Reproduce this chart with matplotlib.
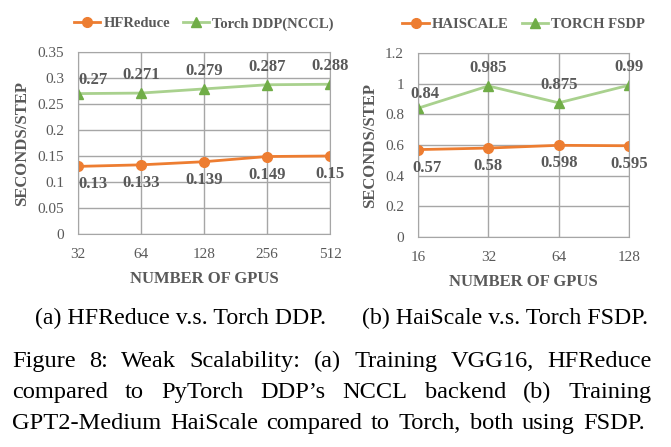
import numpy as np
import matplotlib
matplotlib.use("Agg")
import matplotlib.pyplot as plt

# data
gpus_a = ["32", "64", "128", "256", "512"]
hfreduce = [0.13, 0.133, 0.139, 0.149, 0.15]
torch_ddp = [0.27, 0.271, 0.279, 0.287, 0.288]

gpus_b = ["16", "32", "64", "128"]
haiscale = [0.57, 0.58, 0.598, 0.595]
torch_fsdp = [0.84, 0.985, 0.875, 0.99]

yticks_a = [0, 0.05, 0.1, 0.15, 0.2, 0.25, 0.3, 0.35]
yticks_b = [0, 0.2, 0.4, 0.6, 0.8, 1, 1.2]

caption_a = "(a) HFReduce v.s. Torch DDP."
caption_b = "(b) HaiScale v.s. Torch FSDP."
caption_lines = [
    "Figure 8: Weak Scalability: (a) Training VGG16, HFReduce",
    "compared to PyTorch DDP\u2019s NCCL backend (b) Training",
    "GPT2-Medium HaiScale compared to Torch, both using FSDP.",
]

ORANGE = "#ED7D31"
GREEN_LINE = "#A9D18E"
GREEN_MK = "#70AD47"
GRAY = "#595959"
SERIF = "Liberation Serif"

plt.rcParams["font.family"] = SERIF


def fmt(v):
    s = ("%.3f" % v).rstrip("0").rstrip(".")
    return s


def draw_chart(ax, cats, low, high, names, yticks, ymax, first_dx):
    x = np.arange(len(cats))
    ax.plot(x, low, color=ORANGE, lw=2, marker="o", ms=7, mfc=ORANGE, mec=ORANGE, label=names[0])
    ax.plot(x, high, color=GREEN_LINE, lw=2, marker="^", ms=7, mfc=GREEN_MK, mec=GREEN_MK, label=names[1])
    ax.set_xlim(0, len(cats) - 1)
    ax.set_ylim(0, ymax)
    ax.set_xticks(x)
    ax.set_xticklabels(cats)
    ax.set_yticks(yticks)
    ax.set_yticklabels([fmt(v) for v in yticks])
    ax.tick_params(length=0, labelsize=11, labelcolor=GRAY, pad=10)
    ax.grid(True, color="#A6A6A6", lw=1)
    ax.set_axisbelow(True)
    for s in ax.spines.values():
        s.set_color("#A6A6A6")
    ax.set_xlabel("NUMBER OF GPUS", fontsize=12, fontweight="bold", color=GRAY, labelpad=7)
    ax.set_ylabel("SECONDS/STEP", fontsize=12, fontweight="bold", color=GRAY, labelpad=5)

    # data labels
    for i, v in enumerate(high):
        dx = first_dx[1] if i == 0 else 0
        dy = 10 if i == 0 else 13
        ax.annotate(fmt(v), (i, v), xytext=(dx, dy), textcoords="offset points",
                    ha="center", va="center", fontsize=12, fontweight="bold",
                    color=GRAY, annotation_clip=False)
    for i, v in enumerate(low):
        dx = first_dx[0] if i == 0 else 0
        ax.annotate(fmt(v), (i, v), xytext=(dx, -13), textcoords="offset points",
                    ha="center", va="center", fontsize=12, fontweight="bold",
                    color=GRAY, annotation_clip=False)

    leg = ax.legend(loc="center", bbox_to_anchor=(0.5, 1.155), ncol=2, frameon=False,
                    handlelength=1.8, columnspacing=0.9, handletextpad=0.2,
                    prop={"family": SERIF, "weight": "bold", "size": 10.5})
    for t in leg.get_texts():
        t.set_color(GRAY)


fig = plt.figure(figsize=(6.71, 4.47), dpi=100)
W, H = 671.0, 447.0

ax1 = fig.add_axes([78 / W, 1 - 234 / H, (330 - 78) / W, (234 - 52) / H])
draw_chart(ax1, gpus_a, hfreduce, torch_ddp, ["HFReduce", "Torch DDP(NCCL)"], yticks_a, 0.35, (11, 11))

ax2 = fig.add_axes([418 / W, 1 - 237 / H, (629 - 418) / W, (237 - 53) / H])
draw_chart(ax2, gpus_b, haiscale, torch_fsdp, ["HAISCALE", "TORCH FSDP"], yticks_b, 1.2, (6.5, 5))

sub_kw = dict(fontsize=17.2, color="black", family=SERIF, va="center")
fig.text(181 / W, 1 - 318 / H, caption_a, ha="center", **sub_kw)
fig.text(505 / W, 1 - 318 / H, caption_b, ha="center", **sub_kw)

cap_kw = dict(fontsize=17.6, color="black", family=SERIF, va="baseline")


def justify(line, y, x0, x1):
    # spread words so the line runs from x0 to x1, like the paper's justified text
    words = line.split(" ")
    texts = [fig.text(x0, y, w, ha="left", **cap_kw) for w in words]
    r = fig.canvas.get_renderer()
    widths = [t.get_window_extent(r).width / fig.bbox.width for t in texts]
    gap = (x1 - x0 - sum(widths)) / (len(words) - 1)
    x = x0
    for t, w in zip(texts, widths):
        t.set_x(x)
        x += w + gap


baselines = [367, 398, 429]
right_edges = [652, 652, 645]
for k, line in enumerate(caption_lines):
    justify(line, 1 - baselines[k] / H, 12 / W, right_edges[k] / W)

fig.savefig("out.png", dpi=100)
